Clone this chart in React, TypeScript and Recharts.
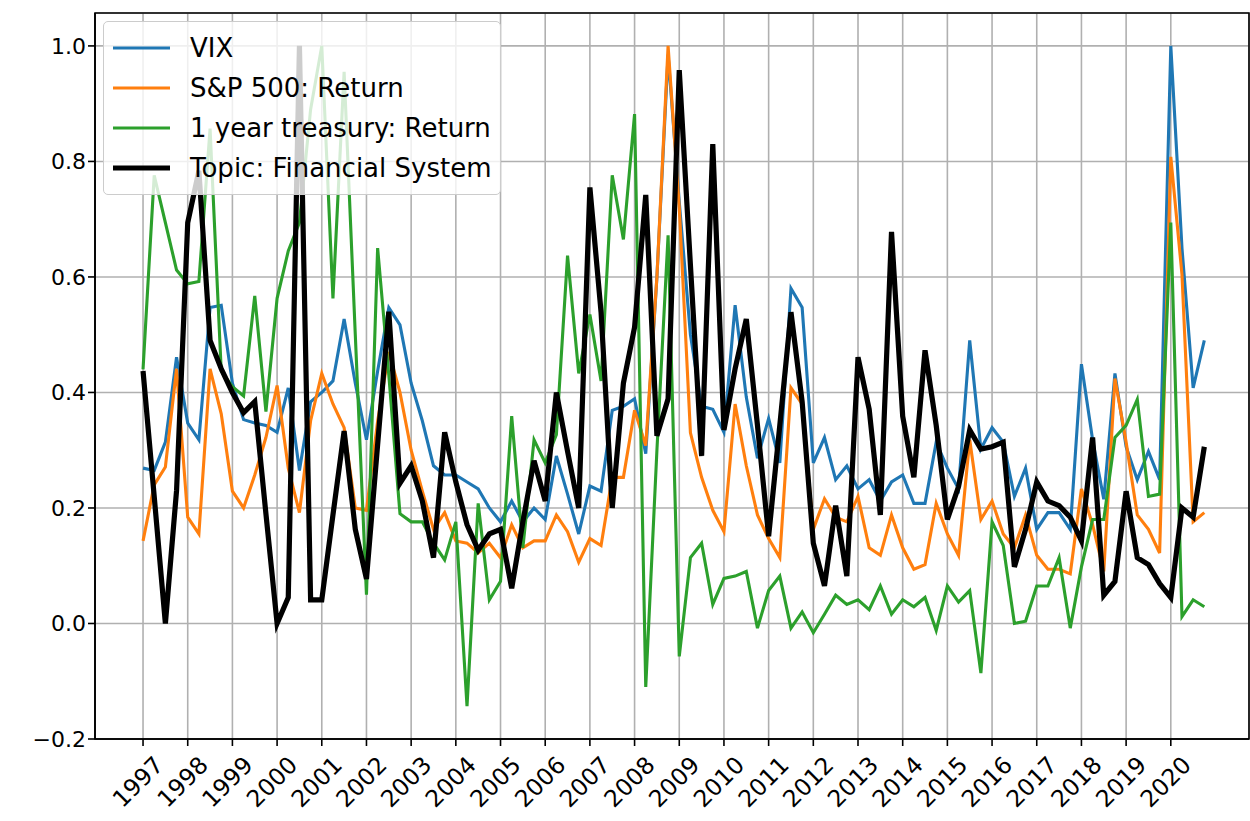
import { LineChart, Line, XAxis, YAxis, CartesianGrid, ReferenceArea } from 'recharts';

// quarterly series, 1997 Q1 .. 2020 Q4 (normalised 0..1)
const years = [
  1997, 1998, 1999, 2000, 2001, 2002, 2003, 2004, 2005, 2006, 2007, 2008,
  2009, 2010, 2011, 2012, 2013, 2014, 2015, 2016, 2017, 2018, 2019, 2020,
];

const vix = [
  0.269, 0.265, 0.314, 0.461, 0.347, 0.318, 0.547, 0.551,
  0.416, 0.353, 0.347, 0.343, 0.331, 0.408, 0.265, 0.384,
  0.4, 0.42, 0.527, 0.416, 0.318, 0.437, 0.547, 0.517,
  0.416, 0.351, 0.273, 0.257, 0.257, 0.245, 0.233, 0.2,
  0.176, 0.212, 0.176, 0.2, 0.18, 0.29, 0.224, 0.155,
  0.238, 0.229, 0.369, 0.376, 0.389, 0.294, 0.6, 0.985,
  0.73, 0.5, 0.376, 0.371, 0.331, 0.551, 0.392, 0.286,
  0.355, 0.278, 0.58, 0.547, 0.278, 0.322, 0.249, 0.273,
  0.233, 0.249, 0.212, 0.245, 0.257, 0.208, 0.208, 0.314,
  0.269, 0.233, 0.49, 0.302, 0.339, 0.314, 0.22, 0.269,
  0.163, 0.192, 0.192, 0.163, 0.449, 0.318, 0.215, 0.433,
  0.306, 0.249, 0.298, 0.249, 1.0, 0.65, 0.408, 0.49,
];

const sp500 = [
  0.143, 0.24, 0.271, 0.441, 0.184, 0.155, 0.441, 0.363,
  0.229, 0.2, 0.257, 0.322, 0.412, 0.269, 0.192, 0.351,
  0.433, 0.38, 0.339, 0.2, 0.196, 0.35, 0.47, 0.4,
  0.3, 0.229, 0.163, 0.192, 0.143, 0.139, 0.122, 0.139,
  0.114, 0.171, 0.131, 0.143, 0.143, 0.188, 0.159, 0.106,
  0.147, 0.135, 0.253, 0.253, 0.369, 0.308, 0.6, 1.0,
  0.72, 0.33, 0.253, 0.196, 0.159, 0.38, 0.273, 0.188,
  0.147, 0.114, 0.408, 0.38, 0.163, 0.216, 0.184, 0.176,
  0.22, 0.131, 0.118, 0.188, 0.131, 0.094, 0.102, 0.208,
  0.155, 0.118, 0.318, 0.18, 0.212, 0.155, 0.131, 0.188,
  0.118, 0.094, 0.094, 0.086, 0.233, 0.171, 0.09, 0.424,
  0.314, 0.188, 0.163, 0.122, 0.808, 0.604, 0.176, 0.192,
];

const treasury = [
  0.44, 0.776, 0.694, 0.612, 0.588, 0.592, 0.857, 0.437,
  0.41, 0.394, 0.567, 0.367, 0.563, 0.645, 0.694, 0.89,
  1.0, 0.563, 0.955, 0.5, 0.05, 0.65, 0.43, 0.19,
  0.176, 0.176, 0.139, 0.11, 0.176, -0.143, 0.208, 0.041,
  0.073, 0.359, 0.131, 0.318, 0.278, 0.327, 0.637, 0.433,
  0.535, 0.42, 0.776, 0.665, 0.882, -0.11, 0.3, 0.672,
  -0.057, 0.114, 0.139, 0.033, 0.078, 0.082, 0.09, -0.008,
  0.057, 0.082, -0.008, 0.02, -0.016, 0.016, 0.049, 0.033,
  0.041, 0.024, 0.065, 0.016, 0.041, 0.029, 0.045, -0.012,
  0.065, 0.037, 0.057, -0.086, 0.176, 0.135, 0.0, 0.004,
  0.065, 0.065, 0.114, -0.008, 0.098, 0.18, 0.18, 0.322,
  0.343, 0.388, 0.22, 0.224, 0.694, 0.012, 0.041, 0.029,
];

const topic = [
  0.437, 0.22, 0.0, 0.23, 0.694, 0.784, 0.49, 0.441,
  0.4, 0.365, 0.384, 0.19, 0.0, 0.045, 1.0, 0.041,
  0.041, 0.188, 0.333, 0.163, 0.077, 0.31, 0.54, 0.243,
  0.273, 0.212, 0.114, 0.331, 0.245, 0.171, 0.127, 0.155,
  0.163, 0.061, 0.176, 0.282, 0.212, 0.4, 0.298, 0.2,
  0.755, 0.539, 0.2, 0.416, 0.513, 0.742, 0.325, 0.389,
  0.958, 0.62, 0.29, 0.83, 0.335, 0.441, 0.527, 0.343,
  0.151, 0.343, 0.539, 0.384, 0.139, 0.065, 0.204, 0.082,
  0.461, 0.371, 0.188, 0.678, 0.359, 0.253, 0.473, 0.343,
  0.18, 0.237, 0.335, 0.302, 0.306, 0.314, 0.098, 0.163,
  0.245, 0.212, 0.204, 0.184, 0.143, 0.322, 0.049, 0.073,
  0.229, 0.114, 0.102, 0.069, 0.045, 0.2, 0.184, 0.306,
];

const yTicks = [-0.2, 0, 0.2, 0.4, 0.6, 0.8, 1.0];

const series = [
  { key: 'vix', name: 'VIX', color: '#1f77b4', width: 3.1 },
  { key: 'sp500', name: 'S&P 500: Return', color: '#ff7f0e', width: 3.1 },
  { key: 'treasury', name: '1 year treasury: Return', color: '#2ca02c', width: 3.1 },
  { key: 'topic', name: 'Topic: Financial System', color: '#000000', width: 5.2 },
];

const data = vix.map((v, i) => ({
  q: i,
  vix: v,
  sp500: sp500[i],
  treasury: treasury[i],
  topic: topic[i],
}));

const xTicks = years.map((_, i) => i * 4);
const X_DOMAIN = [-4.3, 99];
const Y_DOMAIN = [-0.2, 1.057];
const FONT = 'DejaVu Sans, sans-serif';

const YearTick = (props: any) => {
  const { x, y, payload } = props;
  const label = years[payload.value / 4];
  return (
    <g transform={`translate(${x - 5},${y + 34})`}>
      <text
        transform="rotate(-45)"
        textAnchor="middle"
        dominantBaseline="central"
        fontSize={23.5}
        fontFamily={FONT}
        fill="#000"
      >
        {label}
      </text>
    </g>
  );
};

const fmtY = (v: number) => v.toFixed(1).replace('-', '\u2212');

// legend drawn as an overlay, like matplotlib's 'upper left' box
const LegendBox = () => (
  <div
    style={{
      position: 'absolute',
      left: 103,
      top: 21,
      background: 'rgba(255,255,255,0.8)',
      border: '1.6px solid #cccccc',
      borderRadius: 5,
      padding: '6px 10px 6px 9px',
      fontFamily: FONT,
      fontSize: 26,
      color: '#000',
      width: 398,
      boxSizing: 'border-box',
    }}
  >
    {series.map(s => (
      <div key={s.key} style={{ display: 'flex', alignItems: 'center', height: 40, whiteSpace: 'nowrap' }}>
        <svg width={57} height={10} style={{ marginRight: 20, flex: 'none' }}>
          <line x1={0} y1={5} x2={57} y2={5} stroke={s.color} strokeWidth={s.width} />
        </svg>
        <span>{s.name}</span>
      </div>
    ))}
  </div>
);

export default function App() {
  return (
    <div style={{ position: 'absolute', left: 0, top: 0, width: 1250, height: 821, background: '#fff' }}>
      <LineChart
        width={1250}
        height={821}
        data={data}
        margin={{ top: 13, right: 1, bottom: 0, left: 0 }}
      >
        <CartesianGrid stroke="#b0b0b0" strokeWidth={1.6} />
        <XAxis
          dataKey="q"
          type="number"
          domain={X_DOMAIN}
          ticks={xTicks}
          allowDataOverflow
          height={82}
          tickSize={7}
          tickLine={{ stroke: '#000', strokeWidth: 1.6 }}
          axisLine={{ stroke: '#000', strokeWidth: 1.6 }}
          tick={<YearTick />}
          interval={0}
        />
        <YAxis
          type="number"
          domain={Y_DOMAIN}
          ticks={yTicks}
          allowDataOverflow
          width={95}
          tickSize={7}
          tickMargin={2}
          tickFormatter={fmtY}
          tickLine={{ stroke: '#000', strokeWidth: 1.6 }}
          axisLine={{ stroke: '#000', strokeWidth: 1.6 }}
          tick={{ fill: '#000', fontSize: 22, fontFamily: FONT }}
        />
        <ReferenceArea
          x1={X_DOMAIN[0]}
          x2={X_DOMAIN[1]}
          y1={Y_DOMAIN[0]}
          y2={Y_DOMAIN[1]}
          fill="none"
          stroke="#000"
          strokeWidth={1.6}
          ifOverflow="visible"
        />
        {series.map(s => (
          <Line
            key={s.key}
            type="linear"
            dataKey={s.key}
            name={s.name}
            stroke={s.color}
            strokeWidth={s.width}
            dot={false}
            activeDot={false}
            isAnimationActive={false}
          />
        ))}
      </LineChart>
      <LegendBox />
    </div>
  );
}
